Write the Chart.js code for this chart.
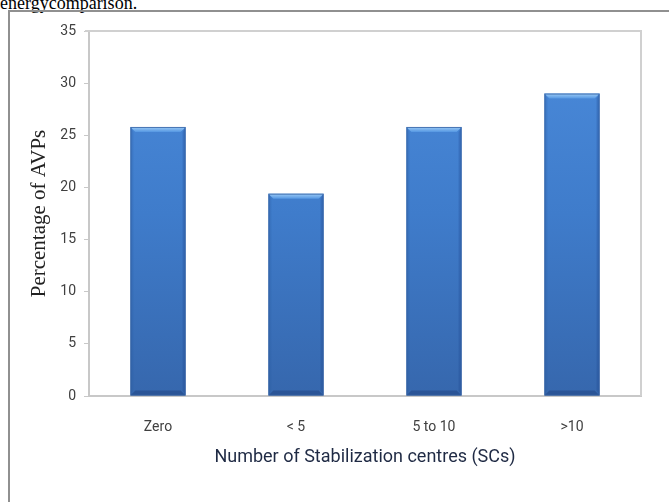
<!DOCTYPE html>
<html>
<head>
<meta charset="utf-8">
<script src="https://cdn.jsdelivr.net/npm/chart.js@4/dist/chart.umd.min.js"></script>
<style>
  html, body { margin: 0; padding: 0; background: #fff; }
  body { width: 669px; height: 502px; position: relative; overflow: hidden; }
  #caption { position: absolute; left: 0; top: -7px; font-family: "Liberation Serif", serif; font-size: 18px; color: #000; white-space: nowrap; }
  #frame { position: absolute; left: 8px; top: 10px; width: 700px; height: 520px; border: 2px solid #909090; box-sizing: border-box; }
  #wrap { position: absolute; left: 0; top: 0; width: 669px; height: 502px; }
</style>
</head>
<body>
<div id="caption">energycomparison.</div>
<div id="frame"></div>
<div id="wrap"><canvas id="c" width="669" height="502"></canvas></div>
<script>
const categories = ["Zero", "< 5", "5 to 10", ">10"];
const percentages = [25.8, 19.4, 25.8, 29.0];
const yTicks = [0, 5, 10, 15, 20, 25, 30, 35];
const xTitle = "Number of Stabilization centres (SCs)";
const yTitle = "Percentage of AVPs";

const bevel = {
  id: 'bevel',
  afterDatasetsDraw(chart) {
    const ctx = chart.ctx;
    chart.getDatasetMeta(0).data.forEach(bar => {
      const l = bar.x - bar.width / 2, r = bar.x + bar.width / 2;
      const t = bar.y, b = bar.base, d = 5;
      ctx.save();
      let g = ctx.createLinearGradient(0, t, 0, t + d);
      g.addColorStop(0, '#9ccbf6'); g.addColorStop(1, '#5597e2');
      ctx.fillStyle = g;
      ctx.beginPath(); ctx.moveTo(l, t); ctx.lineTo(r, t); ctx.lineTo(r - d, t + d); ctx.lineTo(l + d, t + d); ctx.closePath(); ctx.fill();
      ctx.fillStyle = 'rgba(40,90,160,0.22)';
      ctx.beginPath(); ctx.moveTo(l, t); ctx.lineTo(l + d - 2, t + d); ctx.lineTo(l + d - 2, b - d); ctx.lineTo(l, b); ctx.closePath(); ctx.fill();
      ctx.fillStyle = 'rgba(30,70,140,0.28)';
      ctx.beginPath(); ctx.moveTo(r, t); ctx.lineTo(r - d + 2, t + d); ctx.lineTo(r - d + 2, b - d); ctx.lineTo(r, b); ctx.closePath(); ctx.fill();
      ctx.fillStyle = 'rgba(20,50,110,0.35)';
      ctx.beginPath(); ctx.moveTo(l, b); ctx.lineTo(l + d, b - d); ctx.lineTo(r - d, b - d); ctx.lineTo(r, b); ctx.closePath(); ctx.fill();
      ctx.strokeStyle = 'rgba(50,95,160,0.8)'; ctx.lineWidth = 1;
      ctx.strokeRect(l + 0.5, t + 0.5, bar.width - 1, b - t - 1);
      ctx.restore();
    });
  }
};

const frameBox = {
  id: 'frameBox',
  beforeDatasetsDraw(chart) {
    const a = chart.chartArea, ctx = chart.ctx;
    ctx.save();
    ctx.strokeStyle = '#d0d0d0'; ctx.lineWidth = 2;
    ctx.beginPath();
    ctx.moveTo(a.left - 4, a.top); ctx.lineTo(a.right, a.top); ctx.lineTo(a.right, a.bottom);
    ctx.stroke();
    ctx.restore();
  }
};

new Chart(document.getElementById('c'), {
  type: 'bar',
  data: {
    labels: categories,
    datasets: [{
      data: percentages,
      backgroundColor: (ctx) => {
        const a = ctx.chart.chartArea;
        if (!a) return '#3f7fd0';
        const g = ctx.chart.ctx.createLinearGradient(0, a.top, 0, a.bottom);
        g.addColorStop(0, '#4b8bdb');
        g.addColorStop(0.5, '#3f7ccb');
        g.addColorStop(1, '#3667ad');
        return g;
      },
      borderWidth: 0,
      barPercentage: 0.8,
      categoryPercentage: 0.5
    }]
  },
  options: {
    responsive: false,
    animation: false,
    layout: { padding: { left: 27, right: 28, top: 31, bottom: 34 } },
    plugins: { legend: { display: false }, tooltip: { enabled: false } },
    scales: {
      x: {
        grid: { display: false, drawTicks: false },
        border: { color: '#c8c8c8', width: 2 },
        ticks: { padding: 23, color: '#404040', font: { family: 'Roboto', size: 14 } },
        title: { display: true, text: xTitle, color: '#1f2a44', padding: 0, font: { family: 'Roboto', size: 18 } },
        afterFit(s) { s.height = 72; }
      },
      y: {
        min: 0, max: 35,
        afterBuildTicks(s) { s.ticks = yTicks.map(v => ({ value: v })); },
        grid: { display: true, drawOnChartArea: false, drawTicks: true, tickLength: 5, color: '#c8c8c8' },
        border: { color: '#c8c8c8', width: 2 },
        ticks: { padding: 8, color: '#404040', font: { family: 'Roboto', size: 14 } },
        title: { display: true, text: yTitle, color: '#222', padding: 0, font: { family: 'Liberation Serif', size: 21 } },
        afterFit(s) { s.width = 62; }
      }
    }
  },
  plugins: [frameBox, bevel]
});
</script>
</body>
</html>
